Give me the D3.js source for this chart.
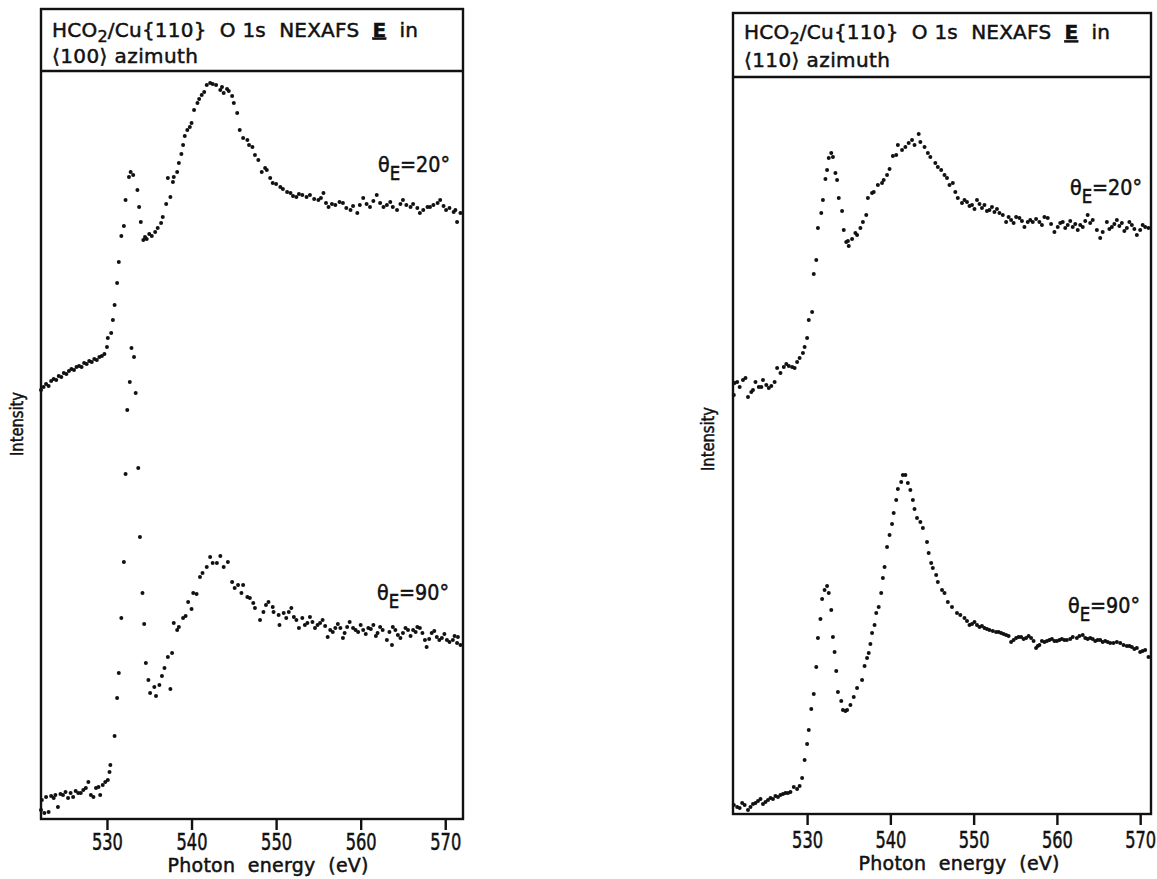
<!DOCTYPE html>
<html><head><meta charset="utf-8">
<script src="https://cdn.jsdelivr.net/npm/d3@7"></script>
<style>body{margin:0;background:#fff}text{fill:#111}</style>
</head><body>
<script>
// ---------- DATA (photon energy eV, intensity arbitrary units) ----------
const xTickValues = [530, 540, 550, 560, 570];
const xAxisTitle = "Photon energy (eV)";
const yAxisTitle = "Intensity";
const azimuths = ["⟨100⟩", "⟨110⟩"];
const angleLabels = ["20°", "90°"];

const az100_theta20 = [
[522.2,4.29],[522.5,4.32],[522.8,4.35],[523.1,4.33],[523.4,4.38],[523.7,4.40],[524.0,4.39],[524.3,4.43],[524.6,4.42],[524.9,4.46],
[525.2,4.45],[525.5,4.48],[525.8,4.50],[526.1,4.49],[526.4,4.52],[526.7,4.53],[527.0,4.52],[527.3,4.56],[527.6,4.55],[527.9,4.58],
[528.2,4.57],[528.5,4.60],[528.8,4.59],[529.1,4.62],[529.4,4.63],[529.7,4.65],[530.0,4.72],[530.1,4.81],[530.5,4.86],[530.7,4.99],
[530.9,5.14],[531.2,5.36],[531.4,5.57],[531.7,5.83],[532.0,5.93],[532.2,6.19],[532.6,6.42],[532.8,6.47],[533.1,6.44],[533.6,6.29],
[533.8,6.12],[534.0,5.97],[534.3,5.79],[534.5,5.82],[534.7,5.80],[535.0,5.85],[535.3,5.83],[535.7,5.87],[536.0,5.91],[536.4,5.96],
[536.6,6.02],[537.0,6.15],[537.2,6.41],[537.5,6.22],[537.8,6.37],[537.9,6.42],[538.3,6.47],[538.5,6.56],[538.8,6.65],[539.0,6.74],
[539.2,6.83],[539.5,6.89],[539.8,6.92],[540.0,6.96],[540.3,7.09],[540.7,7.16],[540.9,7.20],[541.2,7.24],[541.5,7.27],[541.8,7.34],
[542.2,7.36],[542.5,7.35],[542.9,7.34],[543.4,7.29],[543.6,7.32],[543.8,7.26],[544.2,7.30],[544.4,7.28],[544.8,7.23],[545.0,7.16],
[545.4,7.06],[545.7,6.89],[546.1,6.81],[546.6,6.79],[546.8,6.74],[547.2,6.72],[547.5,6.64],[547.9,6.59],[548.3,6.47],[548.7,6.51],
[548.9,6.49],[549.3,6.41],[549.6,6.36],[550.0,6.35],[550.5,6.32],[550.8,6.30],[551.3,6.27],[551.7,6.26],[552.0,6.23],[552.4,6.22],
[552.7,6.25],[553.1,6.24],[553.6,6.22],[554.0,6.24],[554.5,6.20],[555.0,6.19],[555.3,6.21],[555.6,6.26],[555.9,6.16],[556.2,6.12],
[556.6,6.15],[557.0,6.14],[557.5,6.17],[557.9,6.16],[558.3,6.11],[558.8,6.09],[559.1,6.13],[559.6,6.06],[559.9,6.14],[560.3,6.21],
[560.7,6.15],[561.1,6.12],[561.5,6.18],[561.9,6.24],[562.3,6.16],[562.7,6.12],[563.1,6.14],[563.5,6.17],[563.8,6.12],[564.3,6.09],
[564.7,6.15],[565.0,6.19],[565.4,6.14],[565.9,6.12],[566.2,6.15],[566.7,6.11],[567.0,6.06],[567.4,6.09],[567.9,6.12],[568.2,6.12],
[568.6,6.14],[569.1,6.16],[569.4,6.19],[569.8,6.13],[570.1,6.09],[570.5,6.11],[571.0,6.07],[571.2,6.09],[571.4,5.97],[571.8,6.06]
];

const az100_theta90 = [
[522.2,0.09],[522.3,0.19],[522.6,0.06],[522.8,0.22],[523.1,0.07],[523.4,0.23],[523.7,0.21],[523.9,0.24],[524.2,0.12],[524.5,0.25],
[524.8,0.24],[525.1,0.27],[525.4,0.21],[525.7,0.26],[526.0,0.22],[526.3,0.28],[526.6,0.26],[526.9,0.26],[527.2,0.29],[527.5,0.31],
[527.8,0.37],[528.1,0.24],[528.4,0.22],[528.7,0.31],[529.0,0.32],[529.2,0.24],[529.5,0.34],[529.8,0.37],[530.1,0.39],[530.3,0.47],
[530.4,0.54],[530.9,0.83],[531.2,1.21],[531.4,1.46],[531.7,2.01],[532.0,2.57],[532.2,3.45],[532.4,4.09],[532.7,4.37],[532.9,4.71],
[533.2,4.62],[533.4,4.26],[533.7,3.51],[533.9,2.82],[534.2,2.26],[534.4,1.95],[534.6,1.56],[534.9,1.39],[535.1,1.26],[535.6,1.32],
[535.8,1.23],[536.2,1.34],[536.5,1.43],[536.8,1.51],[537.2,1.62],[537.5,1.30],[537.7,1.66],[537.9,1.96],[538.3,1.89],[538.5,1.92],
[539.0,2.01],[539.3,2.03],[539.6,2.17],[540.0,2.10],[540.2,2.26],[540.6,2.25],[541.0,2.42],[541.3,2.46],[541.8,2.52],[542.2,2.62],
[542.5,2.56],[543.0,2.56],[543.4,2.63],[543.8,2.52],[544.3,2.57],[544.8,2.37],[545.1,2.31],[545.5,2.34],[545.9,2.26],[546.1,2.34],
[546.6,2.22],[546.9,2.21],[547.3,2.16],[547.5,2.11],[548.1,1.99],[548.5,2.07],[548.8,2.14],[549.1,2.17],[549.6,2.12],[549.7,2.07],
[550.3,2.04],[550.4,1.94],[550.9,2.06],[551.2,2.01],[551.5,2.07],[551.8,2.11],[552.1,2.02],[552.4,1.99],[552.7,1.91],[553.1,2.01],
[553.4,1.94],[553.7,1.96],[554.0,2.02],[554.3,1.97],[554.6,1.91],[554.9,1.94],[555.2,1.96],[555.5,1.99],[555.8,1.93],[556.1,1.82],
[556.4,1.89],[556.7,1.87],[557.0,1.91],[557.3,1.95],[557.6,1.91],[557.9,1.81],[558.1,1.86],[558.4,1.92],[558.7,1.97],[559.1,1.91],
[559.4,1.89],[559.7,1.87],[560.0,1.94],[560.3,1.89],[560.6,1.85],[560.9,1.91],[561.2,1.90],[561.5,1.94],[561.8,1.83],[562.0,1.86],
[562.3,1.92],[562.6,1.89],[563.1,1.79],[563.4,1.87],[563.7,1.74],[563.8,1.92],[564.1,1.89],[564.4,1.84],[564.7,1.81],[565.0,1.86],
[565.3,1.91],[565.6,1.89],[565.9,1.83],[566.2,1.89],[566.5,1.87],[566.7,1.92],[567.0,1.91],[567.3,1.86],[567.6,1.79],[567.8,1.72],
[568.1,1.80],[568.4,1.86],[568.7,1.88],[569.0,1.82],[569.3,1.79],[569.6,1.81],[569.9,1.85],[570.2,1.79],[570.5,1.77],[570.9,1.79],
[571.1,1.83],[571.4,1.76],[571.5,1.82],[571.8,1.74]
];

const az110_theta20 = [
[521.2,4.18],[521.3,4.30],[521.6,4.31],[521.9,4.26],[522.3,4.33],[522.6,4.35],[522.9,4.16],[523.3,4.21],[523.5,4.23],[523.8,4.31],
[524.2,4.26],[524.5,4.26],[524.7,4.33],[525.1,4.28],[525.4,4.25],[525.7,4.27],[526.1,4.31],[526.4,4.45],[526.8,4.40],[527.2,4.46],
[527.5,4.49],[527.8,4.47],[528.2,4.46],[528.5,4.45],[528.8,4.51],[529.1,4.55],[529.5,4.60],[529.7,4.66],[530.0,4.75],[530.2,4.93],
[530.6,5.01],[530.8,5.39],[531.1,5.53],[531.3,5.85],[531.7,6.00],[531.9,6.13],[532.2,6.34],[532.4,6.43],[532.6,6.55],[532.9,6.60],
[533.1,6.56],[533.4,6.40],[533.6,6.33],[533.8,6.15],[534.2,6.02],[534.4,5.83],[534.7,5.71],[534.9,5.72],[535.0,5.67],[535.4,5.74],
[535.8,5.80],[536.0,5.78],[536.4,5.85],[536.7,5.91],[537.1,5.98],[537.3,6.15],[537.8,6.20],[538.0,6.21],[538.5,6.28],[539.0,6.30],
[539.2,6.33],[539.6,6.38],[539.9,6.44],[540.3,6.57],[540.7,6.58],[540.9,6.68],[541.4,6.63],[541.8,6.66],[542.2,6.70],[542.6,6.73],
[542.9,6.68],[543.4,6.79],[543.6,6.71],[544.1,6.66],[544.5,6.60],[544.8,6.56],[545.4,6.50],[545.7,6.46],[546.1,6.43],[546.5,6.38],
[546.8,6.35],[547.1,6.28],[547.5,6.30],[547.8,6.21],[548.1,6.15],[548.6,6.10],[548.9,6.13],[549.2,6.11],[549.5,6.07],[549.8,6.08],
[550.1,6.04],[550.4,6.13],[550.7,6.09],[551.0,6.05],[551.3,6.08],[551.6,6.02],[551.9,6.03],[552.2,6.06],[552.5,6.01],[552.8,6.04],
[553.1,6.00],[553.5,5.98],[553.9,5.91],[554.2,5.96],[554.5,5.93],[554.8,5.90],[555.1,5.96],[555.5,5.95],[555.8,5.92],[556.1,5.86],
[556.5,5.91],[556.8,5.93],[557.1,5.91],[557.5,5.94],[557.9,5.91],[558.2,5.88],[558.5,5.96],[558.9,5.95],[559.3,5.89],[559.7,5.81],
[560.1,5.86],[560.4,5.90],[560.7,5.91],[561.0,5.85],[561.3,5.88],[561.6,5.92],[561.9,5.86],[562.2,5.89],[562.5,5.83],[562.8,5.88],
[563.1,5.86],[563.4,5.92],[563.7,5.98],[564.0,5.90],[564.3,5.93],[564.8,5.83],[565.2,5.75],[565.5,5.81],[566.0,5.91],[566.3,5.84],
[566.6,5.86],[566.9,5.89],[567.2,5.93],[567.5,5.87],[567.8,5.90],[568.1,5.82],[568.4,5.85],[568.7,5.91],[569.0,5.88],[569.3,5.84],
[569.6,5.78],[570.0,5.83],[570.3,5.88],[570.6,5.86],[571.0,5.85]
];

const az110_theta90 = [
[521.2,0.08],[521.6,0.06],[521.9,0.05],[522.2,0.10],[522.5,0.08],[522.9,0.03],[523.2,0.06],[523.5,0.09],[523.8,0.10],[524.1,0.12],
[524.4,0.14],[524.7,0.09],[525.0,0.11],[525.3,0.13],[525.6,0.15],[525.9,0.14],[526.2,0.17],[526.5,0.16],[526.8,0.18],[527.1,0.19],
[527.4,0.20],[527.7,0.20],[528.0,0.21],[528.4,0.26],[528.8,0.24],[529.1,0.27],[529.4,0.35],[529.7,0.53],[530.0,0.69],[530.2,0.83],
[530.5,1.04],[530.8,1.19],[531.1,1.46],[531.3,1.75],[531.6,1.94],[531.8,2.14],[532.1,2.23],[532.4,2.27],[532.6,2.20],[532.9,2.03],
[533.1,1.76],[533.3,1.61],[533.5,1.42],[533.7,1.21],[534.1,1.12],[534.3,1.03],[534.6,1.02],[534.8,1.03],[535.2,1.08],[535.6,1.16],
[536.0,1.25],[536.6,1.33],[536.9,1.47],[537.2,1.55],[537.4,1.60],[537.6,1.69],[537.8,1.80],[538.1,1.88],[538.3,2.00],[538.6,2.06],
[538.9,2.20],[539.1,2.35],[539.3,2.46],[539.6,2.66],[539.9,2.78],[540.2,2.89],[540.4,3.00],[540.7,3.13],[540.9,3.24],[541.3,3.31],
[541.5,3.38],[541.8,3.38],[542.1,3.30],[542.4,3.23],[542.7,3.13],[542.9,3.04],[543.2,2.95],[543.6,2.91],[543.9,2.85],[544.4,2.71],
[544.6,2.60],[544.9,2.50],[545.1,2.45],[545.5,2.38],[545.7,2.31],[546.2,2.23],[546.5,2.20],[546.9,2.11],[547.4,2.06],[548.0,2.00],
[548.4,1.98],[548.9,1.95],[549.2,1.92],[549.5,1.88],[549.8,1.89],[550.1,1.91],[550.4,1.88],[550.7,1.86],[551.0,1.87],[551.3,1.85],
[551.6,1.84],[551.9,1.83],[552.3,1.82],[552.7,1.81],[553.0,1.81],[553.3,1.80],[553.6,1.79],[553.9,1.78],[554.2,1.77],[554.5,1.71],
[554.8,1.73],[555.1,1.75],[555.4,1.76],[555.7,1.76],[556.0,1.74],[556.3,1.75],[556.6,1.77],[556.9,1.75],[557.2,1.72],[557.5,1.65],
[557.7,1.67],[557.9,1.68],[558.2,1.72],[558.5,1.71],[558.8,1.72],[559.1,1.73],[559.4,1.74],[559.7,1.72],[560.0,1.72],[560.3,1.73],
[560.6,1.74],[560.9,1.73],[561.2,1.73],[561.6,1.74],[561.9,1.76],[562.4,1.75],[562.7,1.77],[563.1,1.78],[563.4,1.75],[563.7,1.74],
[564.0,1.75],[564.3,1.74],[564.6,1.72],[564.9,1.73],[565.2,1.73],[565.5,1.71],[565.8,1.72],[566.1,1.71],[566.4,1.70],[566.8,1.70],
[567.2,1.71],[567.6,1.70],[568.0,1.68],[568.4,1.67],[568.7,1.67],[569.0,1.66],[569.3,1.64],[569.6,1.65],[570.0,1.61],[570.3,1.62],
[570.6,1.63],[571.0,1.56]
];

// ---------- LAYOUT ----------
const W = 1157, H = 879;
const panels = [
  { az: azimuths[0], series: [az100_theta20, az100_theta90],
    x0: 41, x1: 463, top: 9, sep: 71, bottom: 819, yBase: 819,
    eDomain: [522.2, 572.1],
    t1: 36.7, t2: 63.3, tickY: 850, titleY: 872, titleX: 268, yLabX: 23, yLabY: 424,
    lab: [[378, 172], [377, 600]] },
  { az: azimuths[1], series: [az110_theta20, az110_theta90],
    x0: 733, x1: 1151, top: 13, sep: 77, bottom: 814, yBase: 813,
    eDomain: [521.1, 571.3],
    t1: 39.3, t2: 66.7, tickY: 848, titleY: 870, titleX: 959, yLabX: 714, yLabY: 439,
    lab: [[1070, 195], [1068, 613]] }
];

const svg = d3.select("body").append("svg").attr("width", W).attr("height", H)
  .style("background", "#fff");

const ink = "#111";
const sans = "DejaVu Sans, Verdana, sans-serif";
const cond = "'DejaVu Sans Condensed', 'DejaVu Sans', sans-serif";
const heavy = sel => sel.attr("stroke", ink).attr("stroke-width", 0.5);
// horizontal squeeze factor so that a text's natural width becomes `target`
const squeeze = (node, target) => {
  const len = node.getComputedTextLength();
  return len > 0 ? target / len : 1;
};

panels.forEach(p => {
  const g = svg.append("g");
  const x = d3.scaleLinear().domain(p.eDomain).range([p.x0, p.x1]);
  const y = d3.scaleLinear().domain([0, 7.5]).range([p.yBase, p.yBase - 750]);

  // frame
  g.append("rect").attr("x", p.x0).attr("y", p.top)
    .attr("width", p.x1 - p.x0).attr("height", p.bottom - p.top)
    .attr("fill", "none").attr("stroke", ink).attr("stroke-width", 2.4);
  g.append("line").attr("x1", p.x0).attr("x2", p.x1).attr("y1", p.sep).attr("y2", p.sep)
    .attr("stroke", ink).attr("stroke-width", 2.4);

  // title lines
  const t = g.append("text").attr("x", p.x0 + 11).attr("y", p.t1)
    .attr("font-family", sans).attr("font-size", 20).style("white-space", "pre")
    .attr("textLength", 366).attr("lengthAdjust", "spacing").call(heavy);
  t.append("tspan").text("HCO");
  t.append("tspan").attr("font-size", 16).attr("dy", 5).text("2");
  t.append("tspan").attr("dy", -5).text("/Cu{110}  O 1s  NEXAFS  ");
  t.append("tspan").attr("font-weight", "bold").attr("text-decoration", "underline").text("E");
  t.append("tspan").text("  in");
  g.append("text").attr("x", p.x0 + 11).attr("y", p.t2)
    .attr("font-family", sans).attr("font-size", 20).style("white-space", "pre")
    .attr("textLength", 146).attr("lengthAdjust", "spacing").call(heavy)
    .text(p.az + " azimuth");

  // axis
  const ax = d3.axisBottom(x).tickValues(xTickValues).tickSize(11).tickPadding(6)
    .tickFormat(d3.format("d"));
  const axg = g.append("g").attr("transform", `translate(0,${p.bottom})`).call(ax);
  axg.select(".domain").remove();
  axg.selectAll(".tick line").attr("stroke", ink).attr("stroke-width", 2.4);
  axg.selectAll(".tick text").attr("font-family", cond).attr("font-size", 23)
    .attr("fill", ink).attr("dy", null).attr("y", 0).call(heavy)
    .each(function () {
      const k = squeeze(this, 31);
      d3.select(this).attr("transform", `translate(0,${p.tickY - p.bottom}) scale(${k},1)`);
    });

  g.append("text").attr("x", p.titleX).attr("y", p.titleY).attr("text-anchor", "middle")
    .attr("font-family", sans).attr("font-size", 19)
    .attr("textLength", 201).attr("lengthAdjust", "spacing").style("white-space", "pre")
    .call(heavy)
    .text(xAxisTitle.replace(" ", "  ").replace(" (", "  ("));

  const yl = g.append("text").attr("text-anchor", "middle").attr("font-family", sans)
    .attr("font-size", 17).call(heavy).text(yAxisTitle);
  const ky = squeeze(yl.node(), 64);
  yl.attr("transform", `translate(${p.yLabX},${p.yLabY}) rotate(-90) scale(${ky},1)`);

  // data
  p.series.forEach((s, i) => {
    g.append("g").selectAll("circle").data(s).join("circle")
      .attr("cx", d => x(d[0])).attr("cy", d => y(d[1])).attr("r", 2.0).attr("fill", ink);
    const [lx, ly] = p.lab[i];
    const lt = g.append("text").attr("font-family", cond).attr("font-size", 22).call(heavy);
    lt.append("tspan").text("θ");
    lt.append("tspan").attr("dy", 8).attr("font-size", 19).text("E");
    lt.append("tspan").attr("dy", -8).text("=" + angleLabels[i]);
    const k = squeeze(lt.node(), 72);
    lt.attr("transform", `translate(${lx},${ly}) scale(${k},1)`);
  });
});
</script>
</body></html>
